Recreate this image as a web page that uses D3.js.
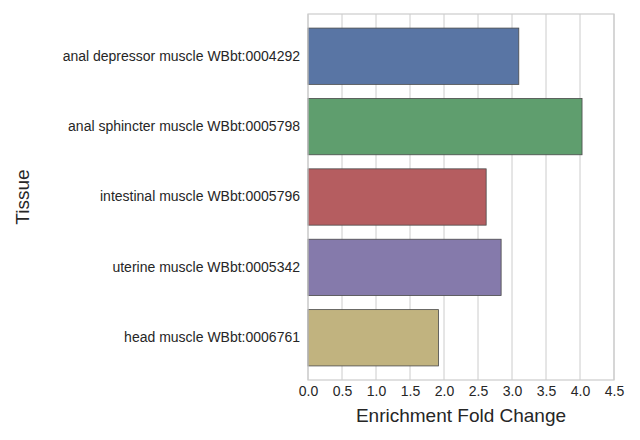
<!DOCTYPE html><html><head><script src="https://cdn.jsdelivr.net/npm/d3@7"></script>
<style>body{margin:0;background:#fff}text{font-family:Arial,"Liberation Sans",sans-serif}</style></head><body>
<svg id="c" width="640" height="440"></svg>
<script>
const categories=["anal depressor muscle WBbt:0004292","anal sphincter muscle WBbt:0005798","intestinal muscle WBbt:0005796","uterine muscle WBbt:0005342","head muscle WBbt:0006761"];
const values=[3.1,4.03,2.62,2.84,1.92];
const colors=["#5975a4","#5f9e6e","#b55d60","#857aab","#c1b37f"];
const ticks=[0,0.5,1,1.5,2,2.5,3,3.5,4,4.5];
const svg=d3.select("#c");
const L=308,R=614,T=14,B=380;
const x=d3.scaleLinear().domain([0,4.5]).range([L,R]);
const y=d3.scaleBand().domain(categories).range([T,B]).padding(0.2);
svg.append("g").selectAll("line").data(ticks).join("line").attr("x1",d=>x(d)).attr("x2",d=>x(d)).attr("y1",T).attr("y2",B).attr("stroke","#cccccc").attr("stroke-width",1);
svg.append("g").selectAll("rect").data(values).join("rect").attr("x",x(0)).attr("y",(d,i)=>y(categories[i])).attr("width",d=>x(d)-x(0)).attr("height",y.bandwidth()).attr("fill",(d,i)=>colors[i]).attr("stroke","#4a4a4a").attr("stroke-width",0.8);
svg.append("rect").attr("x",L).attr("y",T).attr("width",R-L).attr("height",B-T).attr("fill","none").attr("stroke","#cccccc").attr("stroke-width",1.2);
const xa=svg.append("g").attr("transform",`translate(0,${B})`).call(d3.axisBottom(x).tickValues(ticks).tickFormat(d3.format(".1f")).tickSize(0).tickPadding(6));
xa.select(".domain").remove();xa.selectAll("text").attr("font-size",14).attr("fill","#262626");
const ya=svg.append("g").attr("transform",`translate(${L},0)`).call(d3.axisLeft(y).tickSize(0).tickPadding(8));
ya.select(".domain").remove();ya.selectAll("text").attr("font-size",14).attr("fill","#262626");
svg.append("text").attr("x",(L+R)/2).attr("y",422).attr("text-anchor","middle").attr("font-size",19).attr("fill","#262626").text("Enrichment Fold Change");
svg.append("text").attr("transform",`translate(29,${(T+B)/2}) rotate(-90)`).attr("text-anchor","middle").attr("font-size",19).attr("fill","#262626").text("Tissue");
</script></body></html>
